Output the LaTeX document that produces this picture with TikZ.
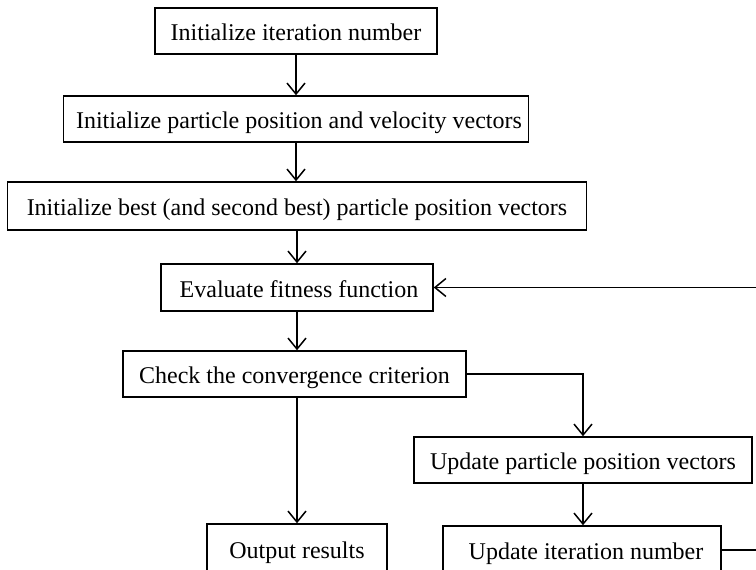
\documentclass[tikz,border=0pt]{standalone}
\usepackage{fontspec}
\setmainfont{Liberation Serif}
\usetikzlibrary{arrows.meta}
\begin{document}
\begin{tikzpicture}[x=1pt,y=-1pt,
  stepbox/.style={draw, line width=1.5pt, inner sep=0pt, anchor=center,
    font=\fontsize{24}{28}\selectfont, text height=19pt, text depth=0pt},
  flow/.style={draw, line width=1.5pt, -{Straight Barb[length=11pt,width=18pt,line width=1.5pt]}}]
\useasboundingbox (0,0) rectangle (756,570);
\clip (0,0) rectangle (756,570);
\fill[white] (0,0) rectangle (756,570);
\node[stepbox, minimum width=282pt, minimum height=46pt] (b1) at (296,31) {Initialize iteration number};
\node[stepbox, minimum width=465pt, minimum height=46pt] (b2) at (296,119) {\hspace{6pt}Initialize particle position and velocity vectors};
\node[stepbox, minimum width=579pt, minimum height=48pt] (b3) at (297,206) {Initialize best (and second best) particle position vectors};
\node[stepbox, minimum width=272pt, minimum height=47pt] (b4) at (297,287.5) {\hspace{4pt}Evaluate fitness function};
\node[stepbox, minimum width=343pt, minimum height=46pt] (b5) at (294.5,374) {Check the convergence criterion};
\node[stepbox, minimum width=338pt, minimum height=46pt] (b6) at (583,460) {Update particle position vectors};
\node[stepbox, minimum width=278pt, minimum height=48pt] (b7) at (582,550) {\hspace{8pt}Update iteration number};
\node[stepbox, minimum width=180pt, minimum height=50pt] (out) at (297,549) {Output results};
\coordinate (r1) at (762,550);
\draw[flow] (b1.south) -- (b1.south |- b2.north);
\draw[flow] (b2.south) -- (b2.south |- b3.north);
\draw[flow] (b3.south -| b4.south) -- (b4.north);
\draw[flow] (b4.south) -- (b4.south |- b5.north);
\draw[flow] (b5.south -| out.north) -- (out.north);
\draw[flow] (b5.east) -| (b6.north);
\draw[flow] (b6.south) -- (b6.south |- b7.north);
\draw[flow] (b7.east) -- (r1) |- (b4.east);
\end{tikzpicture}
\end{document}
